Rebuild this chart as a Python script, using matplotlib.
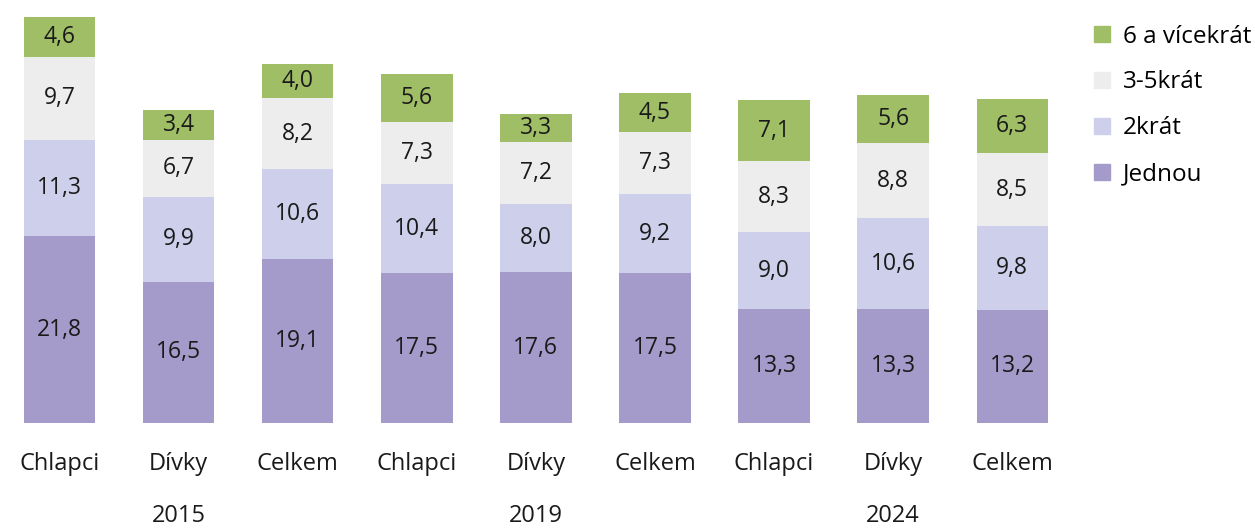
import matplotlib
matplotlib.use("Agg")
import matplotlib.pyplot as plt
from matplotlib.patches import Patch

categories = ["Chlapci", "Dívky", "Celkem"] * 3
years = ["2015", "2019", "2024"]
jednou = [21.8, 16.5, 19.1, 17.5, 17.6, 17.5, 13.3, 13.3, 13.2]
dvakrat = [11.3, 9.9, 10.6, 10.4, 8.0, 9.2, 9.0, 10.6, 9.8]
tri_pet = [9.7, 6.7, 8.2, 7.3, 7.2, 7.3, 8.3, 8.8, 8.5]
sest = [4.6, 3.4, 4.0, 5.6, 3.3, 4.5, 7.1, 5.6, 6.3]

series = [("Jednou", jednou, "#A59BCB"),
          ("2krát", dvakrat, "#CDCFEB"),
          ("3-5krát", tri_pet, "#EDEDED"),
          ("6 a vícekrát", sest, "#9FBE66")]

plt.rcParams['font.family'] = ['Open Sans', 'DejaVu Sans']

fig = plt.figure(figsize=(12.55, 5.29), dpi=100)
ax = fig.add_axes([0.0, 0.2004, 0.854, 0.7996])
x = list(range(len(categories)))
bottom = [0.0] * len(x)
for name, vals, col in series:
    ax.bar(x, vals, width=0.6, bottom=bottom, color=col, label=name)
    for i, v in enumerate(vals):
        ax.text(i, bottom[i] + v / 2, f"{v:.1f}".replace(".", ","),
                ha="center", va="center", fontsize=16.5, color="#1a1a1a")
    bottom = [b + v for b, v in zip(bottom, vals)]

ax.set_xlim(-0.5, len(x) - 0.5)
ax.set_ylim(0, 49.4)
ax.set_xticks([])
ax.set_yticks([])
for s in ax.spines.values():
    s.set_visible(False)

for i, c in enumerate(categories):
    ax.text(i, -4.8, c, ha="center", va="center", fontsize=17, color="#1a1a1a")
for j, y in enumerate(years):
    ax.text(3 * j + 1, -10.9, y, ha="center", va="center", fontsize=17, color="#1a1a1a")

handles = [Patch(color=col, label=name) for name, _, col in series[::-1]]
fig.legend(handles=handles, loc="upper left", bbox_to_anchor=(0.864, 0.972),
           frameon=False, fontsize=17.5, handlelength=0.65, handleheight=0.65,
           handletextpad=0.55, labelspacing=0.9, borderaxespad=0)

fig.savefig("out.png", dpi=100)
